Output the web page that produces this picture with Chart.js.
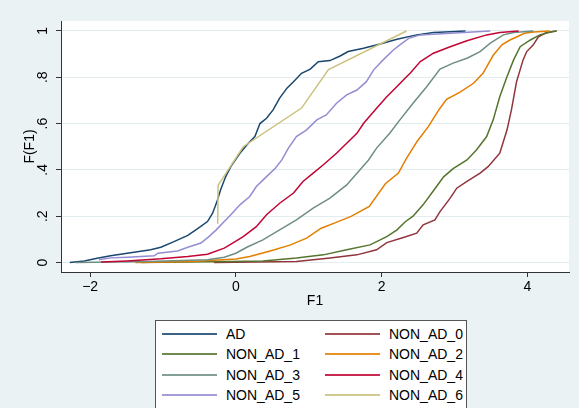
<!DOCTYPE html>
<html><head><meta charset="utf-8">
<script src="https://cdn.jsdelivr.net/npm/chart.js@4/dist/chart.umd.min.js"></script>
<style>
html,body{margin:0;padding:0;background:#eaf2f3;overflow:hidden;}
#wrap{position:relative;width:579px;height:408px;overflow:hidden;}
canvas{position:absolute;left:0;top:0;}
#legend{position:absolute;left:155px;top:320px;width:312px;height:100px;background:#fff;border:1px solid #555;box-sizing:border-box;font-family:"Liberation Sans",Arial,sans-serif;font-size:14px;color:#000;}
.key{position:absolute;width:55px;height:2px;}
.lbl{position:absolute;white-space:nowrap;line-height:16px;}
</style></head>
<body><div id="wrap"><canvas id="c" width="579" height="408"></canvas><div id="legend"></div></div>
<script>
// ---- data ----
const seriesNames = ['AD','NON_AD_0','NON_AD_1','NON_AD_2','NON_AD_3','NON_AD_4','NON_AD_5','NON_AD_6'];
const xTicks = [-2, 0, 2, 4];
const xTickLabels = ['\u22122', '0', '2', '4'];
const yTicks = [0, 0.2, 0.4, 0.6, 0.8, 1];
const yTickLabels = ['0', '.2', '.4', '.6', '.8', '1'];

const adX = [-2.28,-2.08,-1.92,-1.72,-1.49,-1.17,-1.03,-0.85,-0.66,-0.53,-0.39,-0.32,-0.26,-0.21,-0.14,-0.07,0.055,0.17,0.26,0.33,0.42,0.51,0.60,0.70,0.79,0.90,1.02,1.13,1.29,1.43,1.54,1.75,1.98,2.21,2.48,2.71,2.94,3.15];
const adF = [0.0,0.007,0.017,0.029,0.04,0.055,0.066,0.09,0.117,0.145,0.177,0.213,0.263,0.314,0.371,0.414,0.472,0.515,0.544,0.60,0.623,0.659,0.71,0.753,0.781,0.817,0.835,0.867,0.872,0.892,0.911,0.925,0.944,0.964,0.983,0.993,0.997,1.0];

const non0X = [-0.3,0.83,1.29,1.66,1.93,2.07,2.32,2.48,2.57,2.73,2.80,2.94,3.03,3.17,3.35,3.46,3.62,3.72,3.78,3.85,3.94,3.99,4.08,4.15,4.26,4.40];
const non0F = [0.0,0.004,0.019,0.033,0.055,0.086,0.11,0.127,0.163,0.184,0.22,0.278,0.321,0.35,0.386,0.414,0.472,0.573,0.659,0.78,0.875,0.911,0.94,0.975,0.993,1.0];

const non1X = [-1.3,-0.08,0.37,0.83,1.20,1.52,1.84,2.07,2.21,2.32,2.43,2.57,2.71,2.85,2.98,3.17,3.30,3.44,3.53,3.62,3.72,3.81,3.90,4.04,4.17,4.35,4.40];
const non1F = [0.0,0.004,0.007,0.019,0.033,0.055,0.076,0.112,0.141,0.175,0.2,0.25,0.31,0.37,0.405,0.443,0.486,0.544,0.616,0.716,0.803,0.875,0.932,0.961,0.983,0.998,1.0];

const non2X = [-1.38,-0.6,0.0,0.19,0.47,0.74,0.97,1.17,1.35,1.58,1.83,2.05,2.23,2.34,2.49,2.64,2.79,2.89,3.07,3.26,3.39,3.53,3.65,3.76,3.96,4.08,4.31];
const non2F = [0.0,0.004,0.015,0.026,0.05,0.075,0.105,0.148,0.17,0.199,0.242,0.34,0.386,0.45,0.525,0.587,0.662,0.705,0.735,0.774,0.817,0.895,0.94,0.961,0.99,0.995,1.0];

const non3X = [-2.2,-1.2,-0.39,-0.16,0.0,0.15,0.37,0.60,0.83,1.06,1.29,1.52,1.70,1.82,1.93,2.11,2.25,2.43,2.62,2.80,2.98,3.17,3.35,3.49,3.67,3.81,4.08];
const non3F = [0.0,0.004,0.012,0.023,0.04,0.066,0.098,0.141,0.184,0.235,0.278,0.335,0.40,0.443,0.494,0.558,0.616,0.688,0.76,0.835,0.861,0.882,0.911,0.947,0.983,0.993,1.0];

const non4X = [-1.85,-1.49,-1.03,-0.66,-0.39,-0.16,0.0,0.10,0.28,0.42,0.60,0.79,0.92,1.06,1.20,1.38,1.52,1.66,1.75,1.93,2.07,2.21,2.32,2.39,2.53,2.71,2.94,3.17,3.44,3.62,3.88];
const non4F = [0.002,0.007,0.016,0.026,0.036,0.062,0.092,0.112,0.155,0.206,0.256,0.30,0.35,0.386,0.422,0.472,0.515,0.558,0.60,0.666,0.716,0.76,0.796,0.817,0.868,0.904,0.932,0.958,0.983,0.993,1.0];

const non5X = [-1.88,-1.72,-1.49,-1.12,-1.07,-0.80,-0.66,-0.48,-0.37,-0.27,-0.16,-0.07,0.055,0.19,0.28,0.42,0.54,0.63,0.72,0.83,0.97,1.11,1.24,1.38,1.52,1.66,1.79,1.89,2.02,2.16,2.25,2.37,2.53,2.94,3.49];
const non5F = [0.012,0.02,0.023,0.029,0.04,0.05,0.066,0.084,0.112,0.141,0.177,0.206,0.249,0.285,0.328,0.371,0.407,0.443,0.494,0.544,0.573,0.616,0.637,0.688,0.724,0.745,0.781,0.832,0.875,0.918,0.94,0.968,0.983,0.99,1.0];

const non6X = [-0.25,-0.245,0.10,0.90,1.27,2.34];
const non6F = [0.167,0.333,0.5,0.667,0.833,1.0];

const seriesX = [adX, non0X, non1X, non2X, non3X, non4X, non5X, non6X];
const seriesF = [adF, non0F, non1F, non2F, non3F, non4F, non5F, non6F];
const seriesColors = ['#1a476f','#90353b','#55752f','#e37e00','#6e8e84','#c10534','#938dd2','#cac27e'];

// ---- chart ----
const FONT = {family: '"Liberation Sans", Arial, sans-serif', size: 14};

const plotBg = {
  id: 'plotBg',
  beforeDraw(chart) {
    const {ctx, chartArea: a} = chart;
    ctx.save();
    ctx.fillStyle = '#ffffff';
    ctx.fillRect(a.left, a.top, a.right - a.left, a.bottom - a.top);
    ctx.restore();
  }
};

const datasets = seriesNames.map((name, i) => ({
  label: name,
  data: seriesX[i].map((x, j) => ({x: x, y: seriesF[i][j]})),
  borderColor: seriesColors[i],
  backgroundColor: seriesColors[i],
  borderWidth: 1.5,
  pointRadius: 0,
  tension: 0,
  fill: false,
  order: -i
}));

const chart = new Chart(document.getElementById('c'), {
  type: 'line',
  data: {datasets: datasets},
  options: {
    responsive: false,
    devicePixelRatio: 1,
    animation: false,
    parsing: true,
    layout: {padding: {left: 0, right: 10, top: 21, bottom: 96}},
    plugins: {legend: {display: false}, tooltip: {enabled: false}, title: {display: false}},
    scales: {
      x: {
        type: 'linear', min: -2.40, max: 4.57,
        afterBuildTicks: s => { s.ticks = xTicks.map(v => ({value: v})); },
        afterFit: s => { s.height = 40; },
        ticks: {padding: 2, color: '#000', font: FONT, maxRotation: 0, autoSkip: false,
                callback: (v, i) => xTickLabels[i]},
        grid: {drawOnChartArea: false, drawTicks: true, tickLength: 5, tickColor: '#333'},
        border: {color: '#333', width: 1},
        title: {display: true, text: 'F1', color: '#000', font: FONT, padding: {top: 0, bottom: 2}}
      },
      y: {
        type: 'linear', min: -0.041, max: 1.043,
        afterBuildTicks: s => { s.ticks = yTicks.map(v => ({value: v})); },
        afterFit: s => { s.width = 61; },
        ticks: {minRotation: 90, maxRotation: 90, crossAlign: 'center', padding: 7, color: '#000', font: FONT,
                autoSkip: false, callback: (v, i) => yTickLabels[i]},
        grid: {color: '#e3ecef', lineWidth: 1, drawTicks: true, tickLength: 5, tickColor: '#333'},
        border: {color: '#333', width: 1},
        title: {display: true, text: 'F(F1)', color: '#000', font: FONT, padding: {top: 22, bottom: 0}}
      }
    }
  },
  plugins: [plotBg]
});

// ---- legend (two columns, built from the chart's datasets) ----
const legend = document.getElementById('legend');
chart.data.datasets.forEach((ds, i) => {
  const col = i % 2, row = Math.floor(i / 2);
  const cy = 13 + row * 20.3;
  const key = document.createElement('div');
  key.className = 'key';
  key.style.left = (6 + col * 163) + 'px';
  key.style.top = (cy - 1) + 'px';
  key.style.background = ds.borderColor;
  key.style.opacity = '0.85';
  legend.appendChild(key);
  const lbl = document.createElement('div');
  lbl.className = 'lbl';
  lbl.style.left = (70 + col * 163) + 'px';
  lbl.style.top = (cy - 8) + 'px';
  lbl.textContent = ds.label;
  legend.appendChild(lbl);
});
</script>
</body></html>
